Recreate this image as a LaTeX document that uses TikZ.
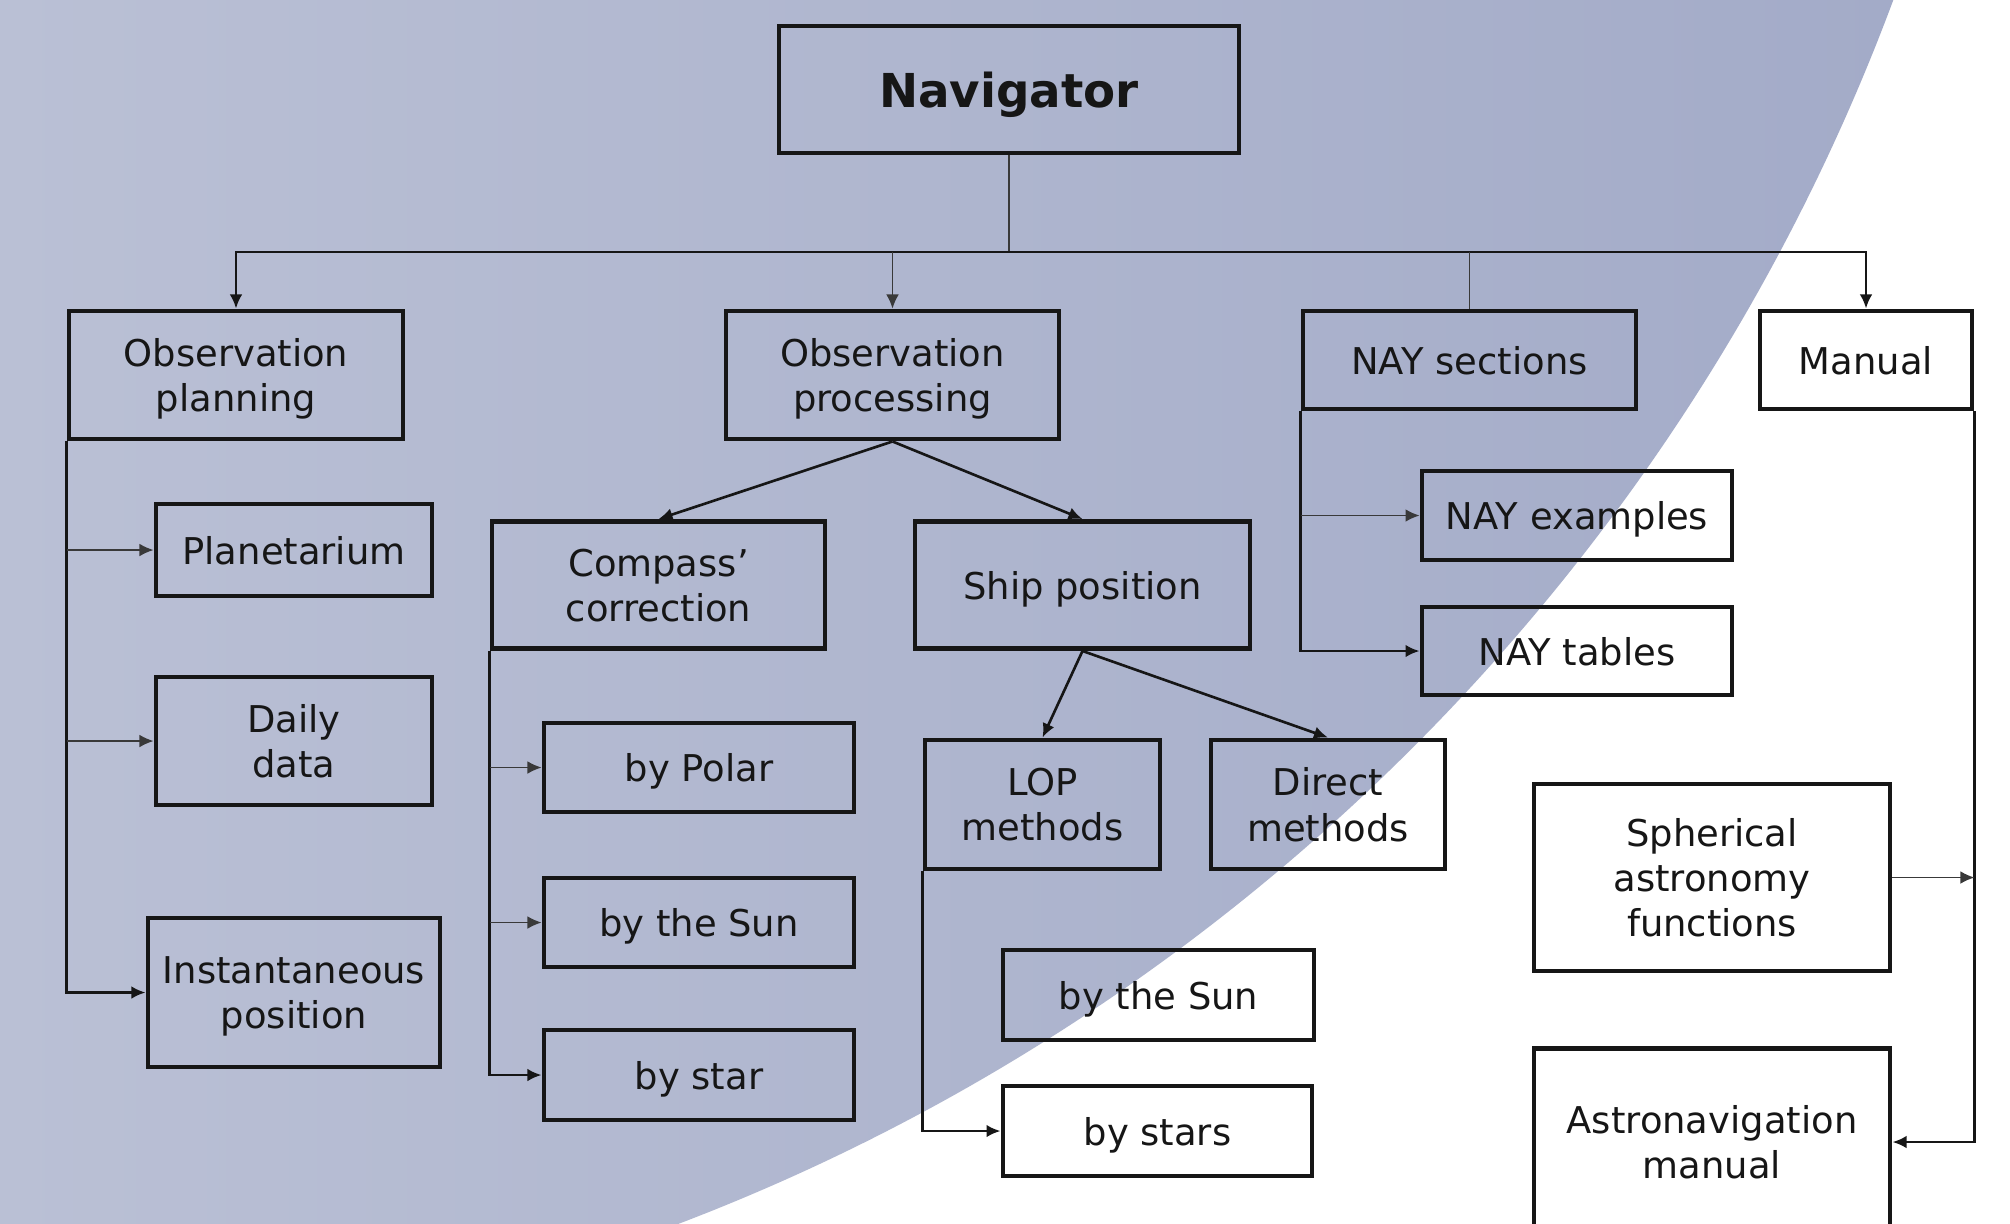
\documentclass[tikz,border=0pt]{standalone}
\usepackage{fontspec}
\setmainfont{DejaVu Sans}
\usepackage{tikz}
\usetikzlibrary{arrows.meta, positioning, calc}

\definecolor{ink}{HTML}{161616}
\definecolor{skyleft}{HTML}{BAC0D5}
\definecolor{skyright}{HTML}{A3ABC8}

\tikzset{
  box/.style={draw=ink, line width=1.4pt, inner sep=0pt, align=center, text=ink,
    text depth=0pt, font=\fontsize{10.5}{12.9}\selectfont},
  sz/.style 2 args={minimum width=#1cm, minimum height=#2cm},
  wire/.style={draw=ink, line width=0.75pt},
  thinwire/.style={draw=ink!85, line width=0.45pt},
  arr/.style={wire, -{Latex[length=4pt,width=3.6pt]}},
  thinarr/.style={thinwire, -{Latex[length=4pt,width=3.6pt]}},
}

\begin{document}
\begin{tikzpicture}

\useasboundingbox (0,0) rectangle (20.1,-12.23);
\fill[white] (0,0) rectangle (20.1,-12.23);
\begin{scope}
\clip (-0.65,7.29) circle (20.89cm);
\shade[left color=skyleft, right color=skyright] (0,0) rectangle (19,-12.23);
\end{scope}

\node[box, sz={4.60}{1.27}, font=\bfseries\fontsize{13.3}{16}\selectfont] (nav) at (10.09,-0.895) {Navigator};

\node[box, sz={3.34}{1.28}] (plan) at (2.36,-3.75) {Observation\\planning};
\node[box, sz={3.33}{1.28}] (proc) at (8.925,-3.75) {Observation\\processing};
\node[box, sz={3.33}{0.98}] (naysec) at (14.695,-3.60) {NAY sections};
\node[box, sz={2.12}{0.98}] (manual) at (18.66,-3.60) {Manual};

\node[box, sz={2.76}{0.92}] (planet) at (2.94,-5.50) {Planetarium};
\node[box, sz={2.76}{1.28}] (daily) at (2.94,-7.41) {Daily\\data};
\node[box, sz={2.92}{1.49}] (inst) at (2.94,-9.925) {Instantaneous\\position};

\node[box, sz={3.33}{1.27}] (comp) at (6.585,-5.85) {Compass’\\correction};
\node[box, sz={3.35}{1.27}] (ship) at (10.825,-5.85) {Ship position};

\node[box, sz={3.10}{0.89}] (polar) at (6.99,-7.675) {by Polar};
\node[box, sz={3.10}{0.89}] (suna) at (6.99,-9.225) {by the Sun};
\node[box, sz={3.10}{0.90}] (star) at (6.99,-10.75) {by star};

\node[box, sz={2.35}{1.29}] (lop) at (10.425,-8.045) {LOP\\methods};
\node[box, sz={2.34}{1.29}] (direct) at (13.28,-8.045) {Direct\\methods};
\node[box, sz={3.11}{0.90}] (sunb) at (11.585,-9.95) {by the Sun};
\node[box, sz={3.09}{0.90}] (stars) at (11.575,-11.31) {by stars};

\node[box, sz={3.10}{0.89}] (nayex) at (15.77,-5.155) {NAY examples};
\node[box, sz={3.10}{0.88}] (naytab) at (15.77,-6.51) {NAY tables};

\node[box, sz={3.56}{1.87}] (sph) at (17.12,-8.775) {Spherical\\astronomy\\functions};
\node[box, sz={3.56}{1.87}] (astro) at (17.12,-11.42) {Astronavigation\\manual};

\coordinate (bus) at (0,-2.52);

\draw[thinwire] (nav.south) -- (nav.south |- bus);
\draw[wire, {Latex[length=4pt,width=3.6pt]}-{Latex[length=4pt,width=3.6pt]}] (plan.north) |- (bus -| manual.north) -- (manual.north);
\draw[thinarr] (proc.north |- bus) -- (proc.north);
\draw[thinwire] (naysec.north |- bus) -- (naysec.north);

\draw[arr] (plan.south west) |- (inst.west);
\draw[thinarr] (plan.south west |- planet.west) -- (planet.west);
\draw[thinarr] (plan.south west |- daily.west) -- (daily.west);

\draw[arr] (proc.south) -- (comp.north);
\draw[arr] (proc.south) -- (ship.north);

\draw[arr] (comp.south west) |- (star.west);
\draw[thinarr] (comp.south west |- polar.west) -- (polar.west);
\draw[thinarr] (comp.south west |- suna.west) -- (suna.west);

\draw[arr] (ship.south) -- (lop.north);
\draw[arr] (ship.south) -- (direct.north);
\draw[arr] (lop.south west) |- (stars.west);

\draw[arr] (naysec.south west) |- (naytab.west);
\draw[thinarr] (naysec.south west |- nayex.west) -- (nayex.west);

\draw[arr] (manual.south east) |- (astro.east);
\draw[thinarr] (sph.east) -- (sph.east -| manual.south east);

\end{tikzpicture}
\end{document}
